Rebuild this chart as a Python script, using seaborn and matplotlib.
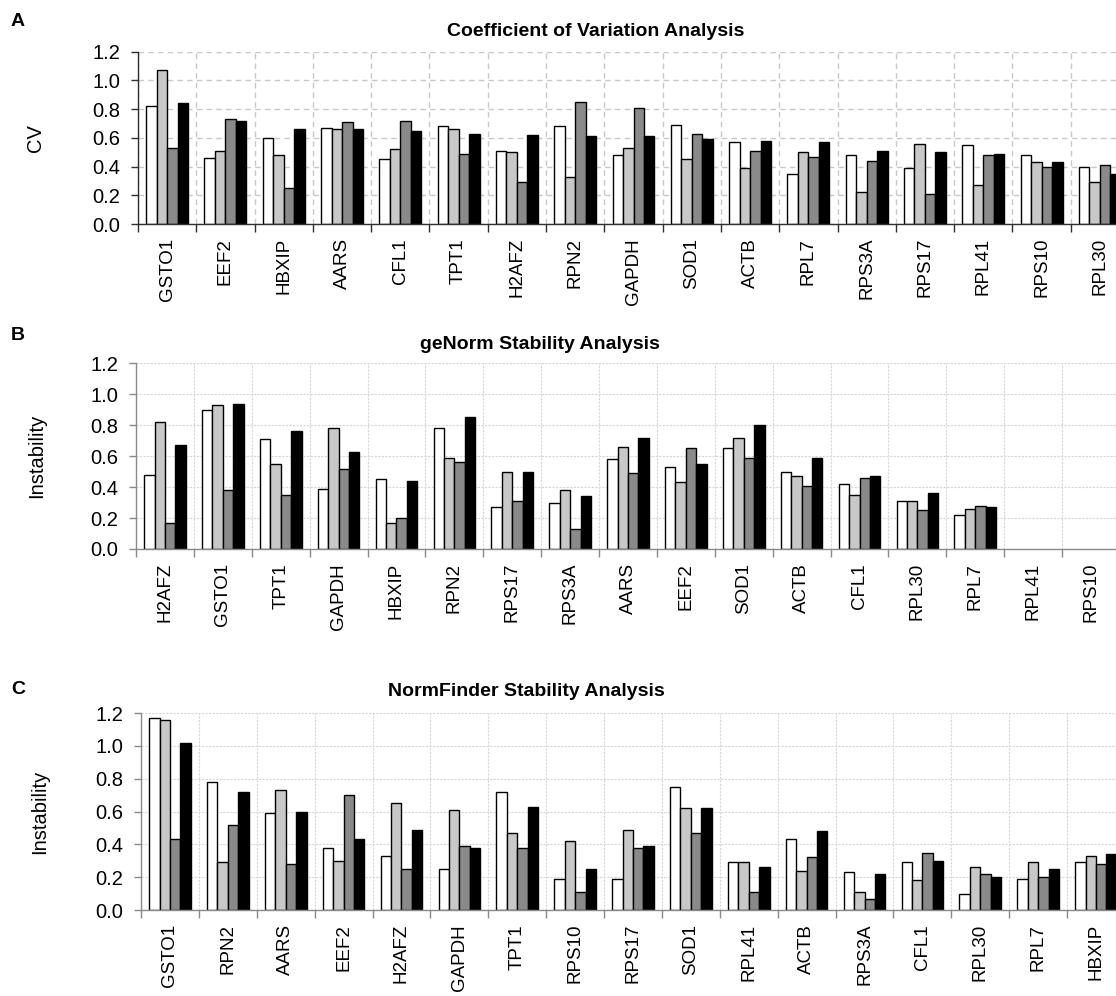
import numpy as np
import pandas as pd
import matplotlib
matplotlib.use("Agg")
import matplotlib.pyplot as plt
import seaborn as sns

# Four sample groups shown as white / light grey / dark grey / black bars
series = ["S1", "S2", "S3", "S4"]
colors = ["#ffffff", "#c8c8c8", "#8a8a8a", "#000000"]

# Panel A: coefficient of variation
cv_genes = ["GSTO1", "EEF2", "HBXIP", "AARS", "CFL1", "TPT1", "H2AFZ", "RPN2",
            "GAPDH", "SOD1", "ACTB", "RPL7", "RPS3A", "RPS17", "RPL41", "RPS10", "RPL30"]
cv_s1 = [0.82, 0.46, 0.60, 0.67, 0.45, 0.68, 0.51, 0.68, 0.48, 0.69, 0.57, 0.35, 0.48, 0.39, 0.55, 0.48, 0.40]
cv_s2 = [1.07, 0.51, 0.48, 0.66, 0.52, 0.66, 0.50, 0.33, 0.53, 0.45, 0.39, 0.50, 0.22, 0.56, 0.27, 0.43, 0.29]
cv_s3 = [0.53, 0.73, 0.25, 0.71, 0.72, 0.49, 0.29, 0.85, 0.81, 0.63, 0.51, 0.47, 0.44, 0.21, 0.48, 0.40, 0.41]
cv_s4 = [0.84, 0.72, 0.66, 0.66, 0.65, 0.63, 0.62, 0.61, 0.61, 0.59, 0.58, 0.57, 0.51, 0.50, 0.49, 0.43, 0.35]

# Panel B: geNorm instability (last two genes have no value)
gn_genes = ["H2AFZ", "GSTO1", "TPT1", "GAPDH", "HBXIP", "RPN2", "RPS17", "RPS3A",
            "AARS", "EEF2", "SOD1", "ACTB", "CFL1", "RPL30", "RPL7", "RPL41", "RPS10"]
gn_s1 = [0.48, 0.90, 0.71, 0.39, 0.45, 0.78, 0.27, 0.30, 0.58, 0.53, 0.65, 0.50, 0.42, 0.31, 0.22, np.nan, np.nan]
gn_s2 = [0.82, 0.93, 0.55, 0.78, 0.17, 0.59, 0.50, 0.38, 0.66, 0.43, 0.72, 0.47, 0.35, 0.31, 0.26, np.nan, np.nan]
gn_s3 = [0.17, 0.38, 0.35, 0.52, 0.20, 0.56, 0.31, 0.13, 0.49, 0.65, 0.59, 0.41, 0.46, 0.25, 0.28, np.nan, np.nan]
gn_s4 = [0.67, 0.94, 0.76, 0.63, 0.44, 0.85, 0.50, 0.34, 0.72, 0.55, 0.80, 0.59, 0.47, 0.36, 0.27, np.nan, np.nan]

# Panel C: NormFinder instability
nf_genes = ["GSTO1", "RPN2", "AARS", "EEF2", "H2AFZ", "GAPDH", "TPT1", "RPS10",
            "RPS17", "SOD1", "RPL41", "ACTB", "RPS3A", "CFL1", "RPL30", "RPL7", "HBXIP"]
nf_s1 = [1.17, 0.78, 0.59, 0.38, 0.33, 0.25, 0.72, 0.19, 0.19, 0.75, 0.29, 0.43, 0.23, 0.29, 0.10, 0.19, 0.29]
nf_s2 = [1.16, 0.29, 0.73, 0.30, 0.65, 0.61, 0.47, 0.42, 0.49, 0.62, 0.29, 0.24, 0.11, 0.18, 0.26, 0.29, 0.33]
nf_s3 = [0.43, 0.52, 0.28, 0.70, 0.25, 0.39, 0.38, 0.11, 0.38, 0.47, 0.11, 0.32, 0.07, 0.35, 0.22, 0.20, 0.28]
nf_s4 = [1.02, 0.72, 0.60, 0.43, 0.49, 0.38, 0.63, 0.25, 0.39, 0.62, 0.26, 0.48, 0.22, 0.30, 0.20, 0.25, 0.34]

sns.set_theme(style="white")
plt.rcParams["font.family"] = ["Liberation Sans", "DejaVu Sans"]
plt.rcParams["text.color"] = "black"


def long_table(genes, *cols):
    rows = []
    for name, vals in zip(series, cols):
        for g, v in zip(genes, vals):
            if not np.isnan(v):
                rows.append({"gene": g, "series": name, "value": v})
    return pd.DataFrame(rows)


W, H = 1116, 996
fig = plt.figure(figsize=(W / 100, H / 100), dpi=100)


def px_axes(left, right, top, bottom):
    return fig.add_axes([left / W, 1 - bottom / H, (right - left) / W, (bottom - top) / H])


panels = [
    dict(genes=cv_genes, cols=(cv_s1, cv_s2, cv_s3, cv_s4), box=(138, 1129, 51.7, 224),
         ylabel="CV", ylab_x=35, title="Coefficient of Variation Analysis", title_x=596, title_y=31,
         letter="A", letter_y=21, ls=(0, (4, 3)), gcol="#c8c8c8", gw=1.0, spine="#303030"),
    dict(genes=gn_genes, cols=(gn_s1, gn_s2, gn_s3, gn_s4), box=(136, 1120, 363.3, 549),
         ylabel="Instability", ylab_x=37, title="geNorm Stability Analysis", title_x=540, title_y=344,
         letter="B", letter_y=335, ls=(0, (2, 1.2)), gcol="#d6d6d6", gw=0.8, spine="#8a8a8a"),
    dict(genes=nf_genes, cols=(nf_s1, nf_s2, nf_s3, nf_s4), box=(141, 1125, 713, 910),
         ylabel="Instability", ylab_x=40, title="NormFinder Stability Analysis", title_x=526, title_y=691,
         letter="C", letter_y=689, ls=(0, (2, 1.2)), gcol="#d6d6d6", gw=0.8, spine="#8a8a8a"),
]

for p in panels:
    left, right, top, bottom = p["box"]
    ax = px_axes(left, right, top, bottom)
    df = long_table(p["genes"], *p["cols"])
    sns.barplot(data=df, x="gene", y="value", hue="series", order=p["genes"],
                hue_order=series, palette=colors, saturation=1, edgecolor="black",
                linewidth=1.0, width=0.72, errorbar=None, legend=False, ax=ax)
    n = len(p["genes"])
    ax.set_xlim(-0.5, n - 0.5)
    ax.set_ylim(0, 1.2)
    ax.set_yticks(np.arange(0, 1.21, 0.2))
    ax.set_yticklabels([f"{v:.1f}" for v in np.arange(0, 1.21, 0.2)], fontsize=14.5)
    ax.set_xticks(np.arange(n))
    ax.set_xticklabels(p["genes"], rotation=90, fontsize=13.5)
    ax.set_xticks(np.arange(-0.5, n, 1.0), minor=True)
    ax.tick_params(axis="x", which="major", length=0, pad=10, labelcolor="black")
    ax.tick_params(axis="x", which="minor", length=6, width=1, direction="out",
                   color=p["spine"], bottom=True)
    ax.tick_params(axis="y", which="major", length=5, width=1, direction="out", pad=8,
                   color=p["spine"], labelcolor="black", left=True)
    ax.set_xlabel("")
    ax.set_ylabel("")
    ax.set_axisbelow(True)
    ax.grid(False)
    ax.grid(axis="y", which="major", linestyle=p["ls"], color=p["gcol"], linewidth=p["gw"])
    ax.grid(axis="x", which="minor", linestyle=p["ls"], color=p["gcol"], linewidth=p["gw"])
    for s in ("top", "right"):
        ax.spines[s].set_visible(False)
    for s in ("left", "bottom"):
        ax.spines[s].set_color(p["spine"])
        ax.spines[s].set_linewidth(1.0)
    fig.text(p["ylab_x"] / W, 1 - (top + bottom) / 2 / H, p["ylabel"], rotation=90,
             ha="center", va="center", fontsize=14.5, color="black")
    fig.text(p["title_x"] / W, 1 - p["title_y"] / H, p["title"], ha="center", va="center",
             fontsize=14, fontweight="bold", color="black")
    fig.text(18 / W, 1 - p["letter_y"] / H, p["letter"], ha="center", va="center",
             fontsize=14, fontweight="bold", color="black")

fig.savefig("out.png", dpi=100)
